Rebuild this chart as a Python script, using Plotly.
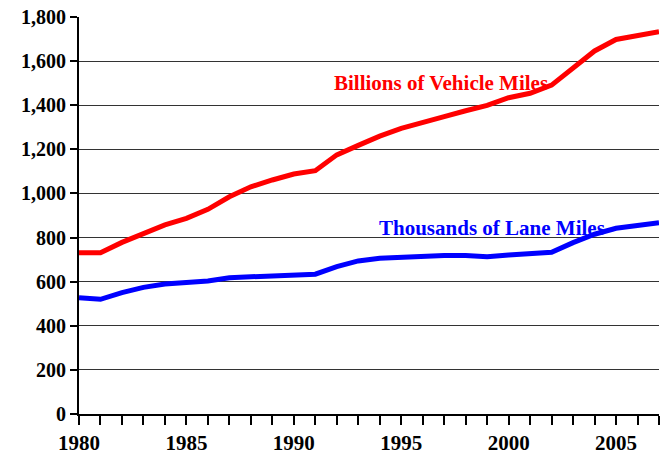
import plotly.graph_objects as go

years = list(range(1980, 2008))
vehicle_miles = [731, 731, 778, 815, 857, 887, 928, 985, 1030, 1061, 1088, 1103,
                 1175, 1218, 1260, 1295, 1324, 1348, 1375, 1399, 1434, 1454, 1491,
                 1567, 1646, 1698, 1718, 1733]
lane_miles = [527, 520, 550, 574, 589, 594, 603, 618, 622, 627, 631, 634,
              668, 694, 706, 712, 715, 719, 719, 713, 721, 725, 733,
              777, 815, 842, 857, 867]
x_tick_text = [str(y) if y % 5 == 0 else "" for y in years]
y_ticks = list(range(0, 1801, 200))

FONT = "Liberation Serif"

fig = go.Figure()
fig.add_trace(go.Scatter(x=years, y=vehicle_miles, mode="lines",
                         line=dict(color="#FF0000", width=5),
                         name="Billions of Vehicle Miles", showlegend=False,
                         hoverinfo="skip"))
fig.add_trace(go.Scatter(x=years, y=lane_miles, mode="lines",
                         line=dict(color="#0000FF", width=5),
                         name="Thousands of Lane Miles", showlegend=False,
                         hoverinfo="skip"))

fig.add_annotation(x=1996.84, y=1500, text="<b>Billions of Vehicle Miles</b>",
                   showarrow=False, xanchor="center", yanchor="middle",
                   font=dict(family=FONT, size=21, color="#FF0000"))
fig.add_annotation(x=1999.23, y=843, text="<b>Thousands of Lane Miles</b>",
                   showarrow=False, xanchor="center", yanchor="middle",
                   font=dict(family=FONT, size=21, color="#0000FF"))

fig.update_layout(
    width=669, height=462,
    margin=dict(l=79, r=10, t=17, b=48),
    paper_bgcolor="white", plot_bgcolor="white",
    font=dict(family=FONT, size=20, color="black"),
)
fig.update_xaxes(
    range=[1980, 2007], tickmode="array", tickvals=years,
    ticktext=[f"<b>{t}</b>" if t else "" for t in x_tick_text],
    ticks="outside", ticklen=9, tickwidth=2, tickcolor="black",
    showline=True, linecolor="black", linewidth=2, showgrid=False, zeroline=False,
    automargin=False, ticklabeloverflow="allow",
    tickfont=dict(family=FONT, size=21, color="black"),
)
fig.update_yaxes(
    range=[0, 1800], tickmode="array", tickvals=y_ticks,
    ticktext=[f"<b>{v:,}</b>" for v in y_ticks],
    ticks="outside", ticklen=7, tickwidth=2, tickcolor="black",
    showline=True, linecolor="black", linewidth=2,
    showgrid=True, gridcolor="#333333", gridwidth=1, zeroline=False,
    automargin=False, ticklabeloverflow="allow",
    tickfont=dict(family=FONT, size=20, color="black"),
)

# remove the browser's default 8px body margin so the figure sits at the page origin
fig.write_html("out.html", config={"displayModeBar": False},
               post_script="document.body.style.margin='0';")
